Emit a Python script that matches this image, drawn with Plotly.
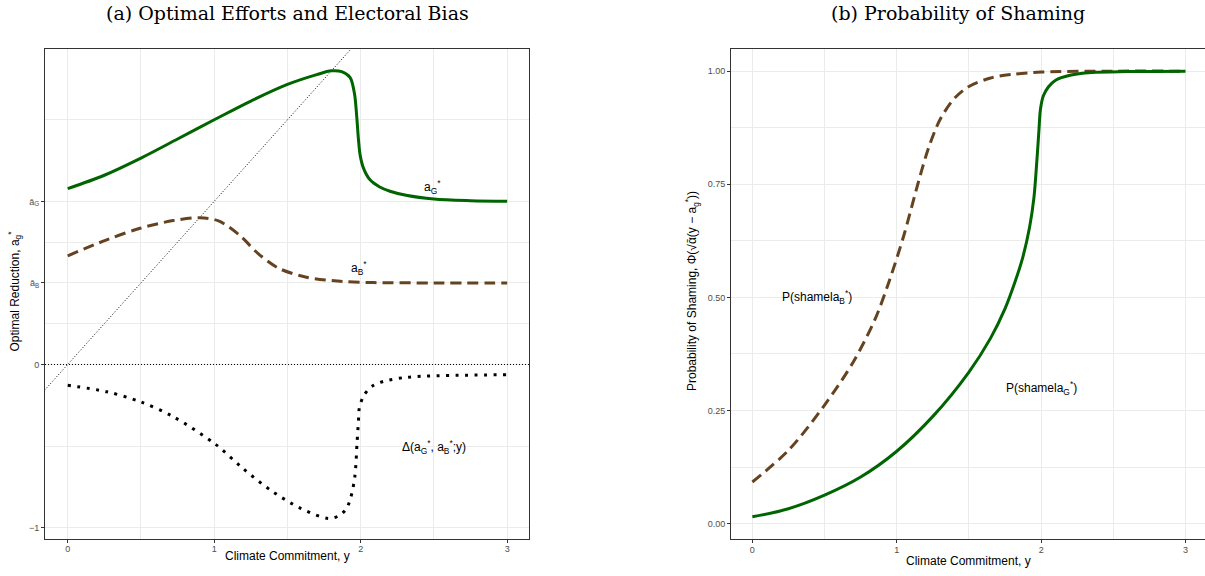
import plotly.graph_objects as go

# ---------------- data ----------------
# Panel (a): optimal efforts
y_commit_G = [0, 0.25, 0.5, 0.75, 1.0, 1.25, 1.5, 1.7, 1.8, 1.87, 1.927, 1.957, 1.973,
              1.985, 1.996, 2.019, 2.064, 2.13, 2.2, 2.31, 2.5, 2.75, 3.0]
a_G = [1.078, 1.16, 1.265, 1.382, 1.50, 1.615, 1.717, 1.777, 1.80, 1.795, 1.76, 1.664, 1.52,
       1.377, 1.285, 1.204, 1.132, 1.088, 1.062, 1.037, 1.014, 1.004, 1.0]

y_commit_B = [0, 0.266, 0.494, 0.72, 0.90, 1.03, 1.17, 1.30, 1.44, 1.63, 1.86, 2.09, 2.5, 3.0]
a_B = [0.666, 0.764, 0.835, 0.882, 0.90, 0.88, 0.795, 0.68, 0.59, 0.535, 0.51, 0.502, 0.50, 0.50]

y_commit_D = [0, 0.266, 0.494, 0.72, 1.01, 1.19, 1.39, 1.59, 1.78, 1.85, 1.90, 1.93, 1.96,
              1.975, 1.985, 1.99, 2.02, 2.08, 2.16, 2.31, 2.53, 3.0]
delta = [-0.128, -0.167, -0.228, -0.32, -0.49, -0.633, -0.774, -0.882, -0.944, -0.928, -0.887,
         -0.823, -0.688, -0.484, -0.34, -0.271, -0.192, -0.132, -0.103, -0.079, -0.069, -0.063]

diag_x = [-0.2, 2.1]          # 45-degree reference line a = y

# Panel (b): probability of shaming
p_x_G = [0, 0.25, 0.5, 0.75, 1.0, 1.25, 1.5, 1.65, 1.75, 1.82, 1.87, 1.92, 1.95, 1.97, 1.985,
         1.995, 2.015, 2.05, 2.1, 2.2, 2.35, 2.6, 3.0]
p_G = [0.015, 0.033, 0.063, 0.103, 0.160, 0.237, 0.335, 0.41, 0.475, 0.535, 0.585, 0.655, 0.72,
       0.80, 0.87, 0.915, 0.945, 0.965, 0.980, 0.991, 0.997, 0.999, 1.0]

p_x_B = [0, 0.25, 0.5, 0.7, 0.85, 0.95, 1.05, 1.15, 1.22, 1.3, 1.4, 1.5, 1.65, 1.8, 2.0, 2.5, 3.0]
p_B = [0.092, 0.162, 0.262, 0.358, 0.452, 0.538, 0.638, 0.755, 0.83, 0.893, 0.940, 0.966, 0.985,
       0.993, 0.998, 1.0, 1.0]

x_ticks = [0, 1, 2, 3]
x_minor = [0.5, 1.5, 2.5]
a_ticks = [-1, 0, 0.5, 1.0]
a_tick_labels = ["\u22121", "0", "\u0101<sub>B</sub>", "\u0101<sub>G</sub>"]
a_minor = [-0.5, 0.25, 0.75, 1.5]
p_ticks = [0, 0.25, 0.5, 0.75, 1.0]
p_tick_labels = ["0.00", "0.25", "0.50", "0.75", "1.00"]
p_minor = [0.125, 0.375, 0.625, 0.875]

# ---------------- styles ----------------
GREEN = "#006400"
BROWN = "#654321"
GRID = "#EBEBEB"
FRAME = "#333333"
TICKC = "#4D4D4D"
SANS = "Liberation Sans, Arial, sans-serif"
SERIF = "DejaVu Serif, serif"
SM = 0.9

fig = go.Figure()

# panel (a)
fig.add_trace(go.Scatter(x=diag_x, y=diag_x, mode="lines", xaxis="x", yaxis="y",
                         line=dict(color="black", width=1, dash="1px,2px"), hoverinfo="skip"))
fig.add_trace(go.Scatter(x=y_commit_B, y=a_B, mode="lines", xaxis="x", yaxis="y",
                         line=dict(color=BROWN, width=3, dash="11px,6px", shape="spline",
                                   smoothing=SM)))
fig.add_trace(go.Scatter(x=y_commit_G, y=a_G, mode="lines", xaxis="x", yaxis="y",
                         line=dict(color=GREEN, width=3, shape="spline", smoothing=SM)))
fig.add_trace(go.Scatter(x=y_commit_D, y=delta, mode="lines", xaxis="x", yaxis="y",
                         line=dict(color="black", width=3, dash="3px,6.5px", shape="spline",
                                   smoothing=SM)))

# panel (b)
fig.add_trace(go.Scatter(x=p_x_B, y=p_B, mode="lines", xaxis="x2", yaxis="y2",
                         line=dict(color=BROWN, width=3, dash="11px,6px", shape="spline",
                                   smoothing=SM)))
fig.add_trace(go.Scatter(x=p_x_G, y=p_G, mode="lines", xaxis="x2", yaxis="y2",
                         line=dict(color=GREEN, width=3, shape="spline", smoothing=SM)))

# horizontal dotted line at 0 (panel a)
fig.add_shape(type="line", xref="x domain", yref="y", x0=0, x1=1, y0=0, y1=0,
              line=dict(color="black", width=1, dash="1px,2px"))

W, H = 1205, 576
L_MARG, R_MARG, T_MARG, B_MARG = 0, 0, 49, 37


def px_x(p):
    return p / W


def axis_common():
    return dict(showgrid=True, gridcolor=GRID, gridwidth=1, zeroline=False,
                ticks="outside", ticklen=3, tickwidth=1, tickcolor=FRAME,
                tickfont=dict(family=SANS, size=9, color=TICKC),
                showline=True, linecolor=FRAME, linewidth=1, automargin=False)


xa = axis_common()
xa.update(domain=[px_x(45), px_x(529)], range=[-0.155, 3.149], tickvals=x_ticks,
          ticktext=[str(v) for v in x_ticks], mirror=True, anchor="y", ticklabelstandoff=-2,
          minor=dict(tickvals=x_minor, showgrid=True, gridcolor=GRID, gridwidth=0.5, ticks=""))
ya = axis_common()
ya.update(domain=[0, 1], range=[-1.07, 1.934], tickvals=a_ticks, ticktext=a_tick_labels,
          mirror=True, anchor="x",
          minor=dict(tickvals=a_minor, showgrid=True, gridcolor=GRID, gridwidth=0.5, ticks=""))
xa2 = axis_common()
xa2.update(domain=[px_x(731), 1.0], range=[-0.148, 3.135], tickvals=x_ticks,
           ticktext=[str(v) for v in x_ticks], mirror=True, anchor="y2", ticklabelstandoff=-1,
           minor=dict(tickvals=x_minor, showgrid=True, gridcolor=GRID, gridwidth=0.5, ticks=""))
ya2 = axis_common()
ya2.update(domain=[0, 1], range=[-0.034, 1.049], tickvals=p_ticks, ticktext=p_tick_labels,
           mirror=False, anchor="x2",
           minor=dict(tickvals=p_minor, showgrid=True, gridcolor=GRID, gridwidth=0.5, ticks=""))

plot_h = H - T_MARG - B_MARG


def py(pix):
    return (H - B_MARG - pix) / plot_h


def ann(text, x, y, size=12, family=SANS, **kw):
    d = dict(text=text, x=x, y=y, showarrow=False, xanchor="center", yanchor="middle",
             font=dict(family=family, size=size, color="black"))
    d.update(kw)
    return d


annotations = [
    # titles
    ann("(a) Optimal Efforts and Electoral Bias", px_x(287), py(12.5), size=19, family=SERIF,
        xref="paper", yref="paper"),
    ann("(b) Probability of Shaming", px_x(958), py(12.5), size=19, family=SERIF,
        xref="paper", yref="paper"),
    # axis titles
    ann("Climate Commitment, y", px_x(287), py(556), xref="paper", yref="paper"),
    ann("Climate Commitment, y", px_x(968), py(561), xref="paper", yref="paper"),
    ann("Optimal Reduction, a<sub>g</sub><sup>*</sup>", px_x(14), py(354), xref="paper",
        yref="paper", yanchor="bottom", textangle=-90),
    ann("Probability of Shaming, \u03a6(\u221a\u1fb1(y \u2212 a<sub>g</sub><sup>*</sup>))",
        px_x(692), py(393), xref="paper", yref="paper", yanchor="bottom", textangle=-90),
    # curve labels
    ann("a<sub>G</sub><sup>*</sup>", 2.49, 1.09, xref="x", yref="y"),
    ann("a<sub>B</sub><sup>*</sup>", 1.99, 0.594, xref="x", yref="y"),
    ann("\u0394(a<sub>G</sub><sup>*</sup>, a<sub>B</sub><sup>*</sup>;y)", 2.50, -0.504,
        xref="x", yref="y"),
    ann("P(shamela<sub>B</sub><sup>*</sup>)", 0.45, 0.50, xref="x2", yref="y2"),
    ann("P(shamela<sub>G</sub><sup>*</sup>)", 2.0, 0.30, xref="x2", yref="y2"),
]

fig.update_layout(
    width=W, height=H,
    margin=dict(l=L_MARG, r=R_MARG, t=T_MARG, b=B_MARG, pad=0),
    paper_bgcolor="white", plot_bgcolor="white",
    showlegend=False,
    xaxis=xa, yaxis=ya, xaxis2=xa2, yaxis2=ya2,
    annotations=annotations,
    font=dict(family=SANS),
)

fig.write_html("out.html", config={"displayModeBar": False},
               post_script="document.body.style.margin='0';document.body.style.overflow='hidden';")
